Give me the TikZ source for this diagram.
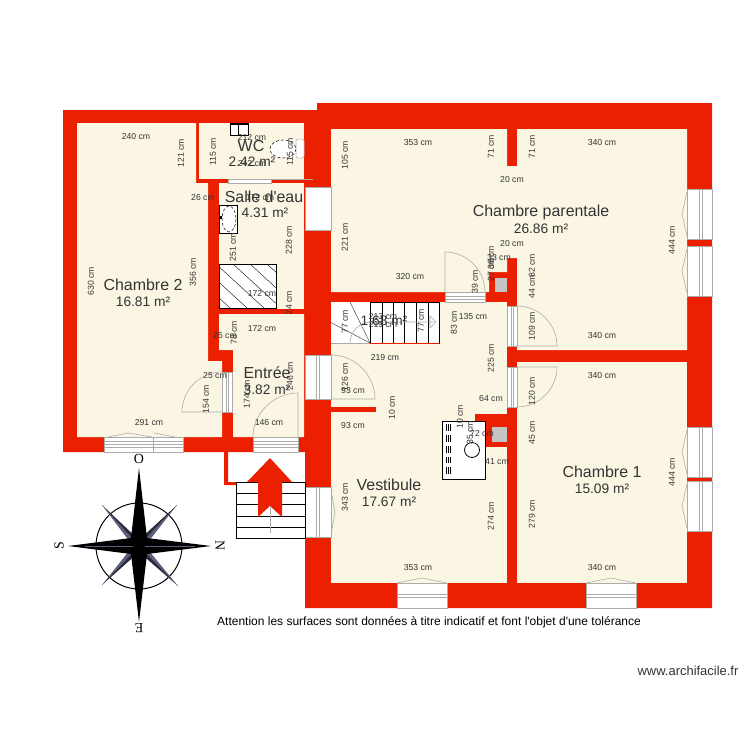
\documentclass[tikz,border=0pt]{standalone}
\usepackage{fontspec}
\setmainfont{Liberation Sans}
\newfontfamily\plainsans{Liberation Sans}
\newfontfamily\compassfont{Liberation Serif}
\definecolor{wallred}{HTML}{EA2000}
\definecolor{roomcream}{HTML}{FBF6E4}
\definecolor{txt}{HTML}{333333}
\definecolor{fix}{HTML}{ABABAB}
\definecolor{flue}{HTML}{C4C4C4}
\definecolor{starblue}{HTML}{5C5F7E}
\tikzset{
  wall/.style={fill=wallred,draw=none},
  room/.style={fill=roomcream,draw=none},
  win/.style={fill=white,draw=fix,line width=0.7pt},
  winline/.style={draw=fix,line width=0.8pt},
  doorline/.style={draw=fix,line width=0.6pt},
  dimh/.style={font=\fontsize{8.7}{10}\selectfont,text=txt,inner sep=0pt},
  dimv/.style={dimh,rotate=90},
  rname/.style={font=\fontsize{16}{18}\selectfont,text=txt,inner sep=0pt},
  rarea/.style={font=\fontsize{13.8}{15}\selectfont,text=txt,inner sep=0pt},
  cardinal/.style={font=\compassfont\fontsize{14}{15}\selectfont,inner sep=0pt},
  note/.style={font=\plainsans\fontsize{12.05}{13}\selectfont,text=black,inner sep=0pt},
  sitenote/.style={font=\plainsans\fontsize{13}{14}\selectfont,text=txt,inner sep=0pt}
}
\newcommand{\dimH}[3]{\node[dimh] at (#1,#2) {#3 cm};}
\newcommand{\dimV}[3]{\node[dimv] at (#1,#2) {#3 cm};}
\begin{document}
\begin{tikzpicture}[x=1bp,y=-1bp]
\useasboundingbox (0,0) rectangle (750,750);
\fill[white] (0,0) rectangle (750,750);
% walls
\path[wall] (63,110)--(317,110)--(317,103)--(712,103)--(712,608)--(305,608)--(305,452)--(63,452)--cycle;
\path[wall] (224,452)--(228,452)--(228,482)--(236,482)--(236,485)--(224,485)--cycle;
% rooms
\path[room] (77,123)--(196,123)--(196,183)--(208,183)--(208,361)--(222,361)--(222,437)--(77,437)--cycle;
\path[room] (199,123) rectangle (304,179);
\path[room] (219,183) rectangle (304,309);
\path[room] (219,314)--(304,314)--(304,437)--(233,437)--(233,350)--(219,350)--cycle;
\path[room] (331,129)--(507,129)--(507,166)--(517,166)--(517,129)--(687,129)--(687,350)--(517,350)--(517,258)--(507,258)--(507,272)--(489,272)--(489,292)--(331,292)--cycle;
\path[room] (517,362) rectangle (687,583);
\path[room] (331,302)--(507,302)--(507,583)--(331,583)--cycle;
% interior walls of the hall
\path[wall] (331,407) rectangle (376,412);
\path[wall] (475,414)--(507,414)--(507,447)--(475,447)--cycle;
\path[fill=flue] (492,427) rectangle (507,442);
\path[fill=flue] (495,278) rectangle (507,292);
% windows, right wall
\foreach \a/\b in {189/239,246/296,427/477,481/531}{
  \path[win] (687,\a) rectangle (712,\b);
  \draw[winline] (699,\a)--(699,\b) (702,\a)--(702,\b);
  \draw[doorline] (687,\a+3)--(682,\a+25)--(687,\b-3);
}
% windows, bottom
\foreach \a/\b in {397/447,586/636}{
  \path[win] (\a,583) rectangle (\b,608);
  \draw[winline] (\a,594)--(\b,594) (\a,597)--(\b,597);
  \draw[doorline] (\a,583)--(\a+25,578)--(\b,583);
}
% Chambre 2 window
\path[win] (104,437) rectangle (183,452);
\draw[winline] (104,441)--(183,441) (104,444)--(183,444) (104,447)--(183,447) (153,437)--(153,452);
\draw[doorline] (108,437)--(128,433)--(152,437) (154,433)--(175,437);
% Entree door
\path[win] (253,437) rectangle (298,452);
\draw[winline] (253,441)--(298,441) (253,444)--(298,444) (253,447)--(298,447);
\draw[doorline] (253,437) .. controls (253,413) and (274,393) .. (298,393)--(298,437);
% Chambre 2 door
\path[win] (222,372) rectangle (232,412);
\draw[winline] (226,372)--(226,412) (228,372)--(228,412);
\draw[doorline] (222,412)--(182,412) .. controls (182,390) and (200,372) .. (222,372);
% window between WC and Salle d'eau
\path[win] (228,179) rectangle (271,183);
\draw[doorline] (271,179)--(313,179);
% wall windows at x=305..331
\path[win] (305,187) rectangle (331,230);
\draw[winline] (331,187)--(331,230);
\path[win] (305,355) rectangle (331,399);
\draw[winline] (316,355)--(316,399) (319,355)--(319,399);
\draw[doorline] (331,355) .. controls (355,355) and (375,375) .. (375,399)--(331,399);
\path[win] (305,487) rectangle (331,537);
\draw[winline] (316,487)--(316,537) (319,487)--(319,537);
\draw[doorline] (331,490)--(335,512)--(331,535);
% door of Chambre parentale
\path[win] (445,292) rectangle (485,302);
\draw[winline] (445,296)--(485,296) (445,299)--(485,299);
\draw[doorline] (445,292)--(445,252) .. controls (467,252) and (485,270) .. (485,292);
% doors in x=507..517
\path[win] (507,306) rectangle (517,346);
\draw[winline] (511,306)--(511,346) (513,306)--(513,346);
\draw[doorline] (517,306) .. controls (539,306) and (557,324) .. (557,346)--(517,346);
\path[win] (507,367) rectangle (517,407);
\draw[winline] (511,367)--(511,407) (513,367)--(513,407);
\draw[doorline] (517,367)--(557,367) .. controls (557,389) and (539,407) .. (517,407);
% main stairs in hall
\path[fill=white] (331,302) rectangle (439,343);
\draw[black,line width=0.6pt] (370,302) rectangle (439,343);
\foreach \x in {382,393,404,416,428}{\draw[line width=0.6pt] (\x,302)--(\x,343);}
\draw[fix,line width=0.8pt] (331,343)--(370,343);
\draw[black!70,line width=0.5pt] (330,322)--(370,343) (350,302)--(370,343);
\draw[wallred,line width=1pt] (370,343)--(439,343);
\draw[fix,line width=0.6pt] (370,322)--(434,322) (430,316)--(436,322)--(430,328)--cycle;
\draw[fix,line width=0.6pt] (350,343) .. controls (350,332) and (359,322) .. (370,322);
% entrance stairs and arrow
\path[fill=white,draw=black,line width=0.6pt] (236,482) rectangle (305,538);
\foreach \y in {493,504,516,527}{\draw[line width=0.6pt] (236,\y)--(305,\y);}
\path[wall] (270,458)--(292,482)--(282,482)--(282,517)--(270,506)--(258,517)--(258,482)--(247,482)--cycle;
\draw[fix,line width=0.6pt] (270,506)--(270,533);
% WC fixtures
\path[fill=white,draw=black,line width=0.5pt] (230,123) rectangle (248,135);
\path[fill=black] (230,123) rectangle (248,125);
\draw[line width=0.4pt] (238,125)--(238,135);
\path[fill=white,draw=black,line width=0.5pt,densely dashed] (283,149) ellipse [x radius=13,y radius=9];
\path[fill=white,draw=fix,line width=0.5pt,rounded corners=2pt] (296,139) rectangle (304,158);
% sink
\path[fill=white,draw=black,line width=0.5pt] (219,205) rectangle (237,233);
\path[draw=black,line width=0.5pt,densely dashed] (229,219) ellipse [x radius=7,y radius=13];
\path[fill=black] (220,216) rectangle (222,219);
% shower
\path[fill=white,draw=black,line width=0.5pt] (219,264) rectangle (276,308);
\begin{scope}
\clip (219,264) rectangle (276,308);
\foreach \x in {165,182,199,216,233,250,267}{\draw[line width=0.4pt] (\x,264)--(\x+48,308);}
\end{scope}
% appliance
\path[fill=white,draw=black,line width=0.8pt] (442,421) rectangle (485,479);
\foreach \a/\b in {424/431,435/442,446/453,457/463,467/474}{
  \draw[line width=0.6pt] (446,\a)--(446,\b) (448,\a)--(448,\b) (450,\a)--(450,\b);
}
\draw[line width=0.8pt] (472,450) circle [radius=7.5];
% compass
\draw[line width=1pt,fill=white] (139,546) circle [radius=43];
\foreach \tx/\ty/\sx/\sy in {102/505/-1/-1,177/505/1/-1,102/585/-1/1,178/586/1/1}{
  \path[fill=starblue] (\tx,\ty)--(139+6*\sx,546)--(139,546)--cycle;
  \path[fill=black!55!starblue] (\tx,\ty)--(139,546+6*\sy)--(139,546)--cycle;
}
\path[fill=black] (139,468)--(147,538)--(211,546)--(147,554)--(139,622)--(131,554)--(68,546)--(131,538)--cycle;
\draw[starblue,line width=0.4pt] (145,546)--(195,546) (85,546)--(133,546);
\node[cardinal] (cO) at (139,459) {O};
\node[cardinal,rotate=180] (cE) at (139,628) {E};
\node[cardinal,rotate=90] (cS) at (59,546) {S};
\node[cardinal,rotate=-90] (cN) at (220,546) {N};
% room labels
\node[rname] at (143,285) {Chambre 2};
\node[rarea] at (143,302) {16.81 m²};
\node[rname] at (251,146) {WC};
\node[rarea] at (252,162) {2.42 m²};
\node[rname,font=\plainsans\fontsize{16}{18}\selectfont] at (264,197) {Salle d'eau};
\node[rarea] at (265,213) {4.31 m²};
\node[rname] at (267,373) {Entrée};
\node[rarea] at (267,390) {3.82 m²};
\node[rname] at (541,212) {Chambre parentale};
\node[rarea] at (541,229) {26.86 m²};
\node[rarea] at (384,321) {1.68 m²};
\node[rname] at (389,485) {Vestibule};
\node[rarea] at (389,502) {17.67 m²};
\node[rname] at (602,472) {Chambre 1};
\node[rarea] at (602,489) {15.09 m²};
% dimensions
\dimH{136}{137}{240}\dimV{181}{153}{121}\dimV{91}{281}{630}\dimV{193}{272}{356}
\dimH{203}{198}{26}\dimH{149}{423}{291}\dimV{206}{399}{154}\dimH{215}{376}{25}
\dimV{213}{152}{115}\dimH{252}{138}{212}\dimH{252}{164}{242}\dimV{290}{152}{115}
\dimH{260}{198}{172}\dimV{233}{247}{251}\dimV{289}{240}{228}\dimH{262}{294}{172}\dimV{289}{303}{24}
\dimH{262}{329}{172}\dimH{225}{336}{25}\dimV{234}{333}{78}\dimV{247}{394}{174}\dimV{290}{376}{246}\dimH{269}{423}{146}
\dimH{383}{317}{213}\dimH{383}{325}{219}\dimV{345}{322}{77}\dimV{421}{321}{77}\dimV{454}{323}{83}\dimH{473}{317}{135}
\dimH{385}{358}{219}\dimV{491}{358}{225}\dimV{345}{377}{126}\dimH{353}{391}{93}\dimV{392}{408}{10}\dimH{353}{426}{93}
\dimH{491}{399}{64}\dimV{460}{417}{10}\dimV{470}{433}{35}\dimH{482}{434}{72}\dimH{497}{462}{41}
\dimV{345}{497}{343}\dimV{491}{516}{274}\dimH{418}{568}{353}
\dimH{418}{143}{353}\dimV{491}{147}{71}\dimV{532}{147}{71}\dimH{602}{143}{340}\dimV{345}{155}{105}
\dimH{512}{180}{20}\dimV{345}{237}{221}\dimH{512}{244}{20}\dimV{672}{240}{444}\dimH{410}{277}{320}
\dimV{475}{282}{39}\dimH{499}{258}{33}\dimV{491}{258}{36}\dimV{491}{270}{27}\dimV{532}{287}{44}\dimV{532}{266}{82}
\dimH{602}{336}{340}\dimV{532}{326}{109}
\dimH{602}{376}{340}\dimV{532}{391}{120}\dimV{532}{433}{45}\dimV{532}{514}{279}\dimV{672}{472}{444}\dimH{602}{568}{340}
% notes
\node[note] (warn) at (429,622) {Attention les surfaces sont données à titre indicatif et font l'objet d'une tolérance};
\node[sitenote] (site) at (688,671) {www.archifacile.fr};
\end{tikzpicture}
\end{document}
